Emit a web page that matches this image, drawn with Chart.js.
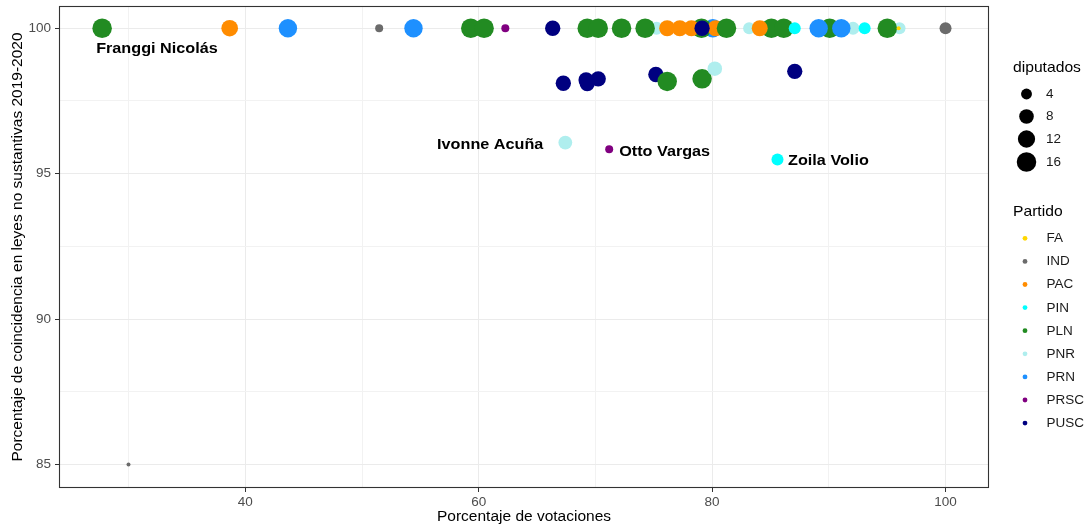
<!DOCTYPE html>
<html>
<head>
<meta charset="utf-8">
<script src="https://cdn.jsdelivr.net/npm/chart.js@4.4.1/dist/chart.umd.min.js"></script>
<style>
  html, body { margin: 0; padding: 0; background: #ffffff; }
  #wrap { position: relative; width: 1086px; height: 527px; }
</style>
</head>
<body>
<div id="wrap"><canvas id="grafico" width="1086" height="527"></canvas></div>
<script>
// ---------- DATA (long format, drawn in row order like ggplot) ----------
const partido = [
  'PNR','PNR','PNR','PNR','PUSC','PRN',
  'PLN','PLN','PLN','PLN','PLN','PLN','PLN','PLN','PLN','PLN','PLN','PLN','PLN','PLN',
  'PAC','PAC','PAC','PAC','PAC','PAC',
  'PLN',
  'PRN','PRN','PRN','PRN',
  'PIN','PIN','PIN',
  'PNR','PNR',
  'PUSC','PUSC','PUSC','PUSC','PUSC','PUSC','PUSC',
  'IND','IND','IND',
  'PRSC','PRSC',
  'FA'
];
const votaciones = [
  75.24, 83.17, 92.07, 96.06, 75.18, 80.06,
  27.73, 59.32, 60.46, 69.30, 70.24, 72.24, 74.26, 79.09, 85.08, 86.14, 90.07, 95.01, 76.15, 79.14,
  38.66, 76.15, 77.23, 78.23, 80.29, 84.08,
  81.23,
  43.65, 54.41, 89.13, 91.07,
  87.08, 93.07, 85.60,
  80.23, 67.42,
  66.34, 79.14, 67.25, 69.20, 69.30, 70.24, 87.08,
  51.47, 100.00, 29.99,
  62.28, 71.18,
  95.98
];
const coincidencia = [
  100, 100, 100, 100, 98.41, 100,
  100, 100, 100, 100, 100, 100, 100, 100, 100, 100, 100, 100, 98.17, 98.26,
  100, 100, 100, 100, 100, 100,
  100,
  100, 100, 100, 100,
  100, 100, 95.49,
  98.61, 96.07,
  100, 100, 98.11, 98.22, 98.10, 98.26, 98.52,
  100, 100, 85.00,
  100, 95.84,
  100
];
const diputados = [
  6, 5, 6, 5, 9, 14,
  16, 16, 16, 16, 16, 16, 16, 16, 16, 16, 16, 16, 16, 16,
  11, 10, 10, 10, 10, 10,
  16,
  14, 14, 14, 14,
  5, 5, 5,
  8, 7,
  9, 9, 9, 9, 9, 9, 9,
  2, 5, 1,
  2, 2,
  1
];
const etiqueta = [
  '', '', '', '', '', '',
  'Franggi Nicolás', '', '', '', '', '', '', '', '', '', '', '', '', '',
  '', '', '', '', '', '',
  '',
  '', '', '', '',
  '', '', 'Zoila Volio',
  '', 'Ivonne Acuña',
  '', '', '', '', '', '', '',
  '', '', '',
  '', 'Otto Vargas',
  ''
];
const partidosLeyenda = ['FA','IND','PAC','PIN','PLN','PNR','PRN','PRSC','PUSC'];
const diputadosLeyenda = [4, 8, 12, 16];
const xTicksMayores = [40, 60, 80, 100];
const xTicksMenores = [30, 50, 70, 90];
const yTicksMayores = [85, 90, 95, 100];
const yTicksMenores = [87.5, 92.5, 97.5];

// ---------- STYLE ----------
const FONT = '"Liberation Sans", Arial, Helvetica, sans-serif';
const colores = {
  FA: '#FFD700', IND: '#6B6B6B', PAC: '#FF8C00', PIN: '#00FFFF', PLN: '#228B22',
  PNR: '#AFEEEE', PRN: '#1E90FF', PRSC: '#800080', PUSC: '#000080'
};
function radio(d) { return 2 + 2 * Math.sqrt(Math.max(d - 1, 0)); }
const ESTIRAR = 1.08;
// label placement relative to its point (pixels)
const posEtiqueta = {
  'Franggi Nicolás': { dx: -6, dy: 25, align: 'left' },
  'Ivonne Acuña': { dx: -22, dy: 6.7, align: 'right' },
  'Otto Vargas': { dx: 10, dy: 7, align: 'left' },
  'Zoila Volio': { dx: 10.6, dy: 6, align: 'left' }
};

function texto(ctx, t, x, y, align) {
  ctx.save();
  ctx.translate(x, y);
  ctx.scale(ESTIRAR, 1);
  ctx.textAlign = align || 'left';
  ctx.fillText(t, 0, 0);
  ctx.restore();
}

const puntos = votaciones.map((v, i) => ({ x: v, y: coincidencia[i] }));

const xTodos = xTicksMenores.concat(xTicksMayores).sort((a, b) => a - b);
const yTodos = yTicksMenores.concat(yTicksMayores).sort((a, b) => a - b);
const esMayorX = v => xTicksMayores.includes(v);
const esMayorY = v => yTicksMayores.includes(v);

const borde = {
  id: 'borde',
  afterDatasetsDraw(chart) {
    const { ctx, chartArea: a } = chart;
    ctx.save();
    ctx.strokeStyle = '#333333';
    ctx.lineWidth = 1.1;
    ctx.strokeRect(a.left - 0.5, a.top - 0.5, a.right - a.left + 1, a.bottom - a.top + 1);
    ctx.restore();
  }
};

const etiquetas = {
  id: 'etiquetas',
  afterDatasetsDraw(chart) {
    const ctx = chart.ctx;
    const xs = chart.scales.x, ys = chart.scales.y;
    ctx.save();
    ctx.fillStyle = '#000000';
    ctx.font = `bold 15px ${FONT}`;
    ctx.textBaseline = 'alphabetic';
    etiqueta.forEach((t, i) => {
      if (!t) return;
      const p = posEtiqueta[t];
      const px = xs.getPixelForValue(votaciones[i]);
      const py = ys.getPixelForValue(coincidencia[i]);
      texto(ctx, t, px + p.dx, py + p.dy, p.align);
    });
    ctx.restore();
  }
};

const leyenda = {
  id: 'leyenda',
  afterDraw(chart) {
    const ctx = chart.ctx;
    ctx.save();
    ctx.textBaseline = 'middle';
    // size legend
    ctx.fillStyle = '#000000';
    ctx.font = `14.5px ${FONT}`;
    texto(ctx, 'diputados', 1013, 68);
    const yTam = [94, 116.5, 139, 162];
    diputadosLeyenda.forEach((d, i) => {
      ctx.fillStyle = '#000000';
      ctx.beginPath();
      ctx.arc(1026.5, yTam[i], radio(d), 0, Math.PI * 2);
      ctx.fill();
      ctx.fillStyle = '#1a1a1a';
      ctx.font = `12.5px ${FONT}`;
      texto(ctx, String(d), 1046, yTam[i] + 0.5);
    });
    // colour legend
    ctx.fillStyle = '#000000';
    ctx.font = `14.5px ${FONT}`;
    texto(ctx, 'Partido', 1013, 212);
    partidosLeyenda.forEach((p, i) => {
      const y = 238.3 + i * 23.1;
      ctx.fillStyle = colores[p];
      ctx.beginPath();
      ctx.arc(1025, y, 2.4, 0, Math.PI * 2);
      ctx.fill();
      ctx.fillStyle = '#1a1a1a';
      ctx.font = `12.5px ${FONT}`;
      texto(ctx, p, 1046.5, y + 0.5);
    });
    ctx.restore();
  }
};

new Chart(document.getElementById('grafico'), {
  type: 'scatter',
  data: {
    datasets: [{
      data: puntos,
      backgroundColor: partido.map(p => colores[p]),
      borderWidth: 0,
      pointRadius: ctx => radio(diputados[ctx.dataIndex]),
      pointHoverRadius: ctx => radio(diputados[ctx.dataIndex])
    }]
  },
  options: {
    responsive: false,
    animation: false,
    events: [],
    layout: { autoPadding: false, padding: { top: 7, right: 98, bottom: 0, left: 0 } },
    plugins: { legend: { display: false }, tooltip: { enabled: false } },
    scales: {
      x: {
        type: 'linear',
        min: 24.12,
        max: 103.64,
        afterBuildTicks: s => { s.ticks = xTodos.map(v => ({ value: v })); },
        afterFit: s => { s.height = 40; s.paddingLeft = 0; s.paddingRight = 0; },
        border: { display: false },
        grid: {
          color: c => (c.tick && esMayorX(c.tick.value)) ? '#ebebeb' : '#f2f2f2',
          lineWidth: 1,
          tickLength: 5,
          tickWidth: 1,
          tickColor: c => (c.tick && esMayorX(c.tick.value)) ? '#333333' : 'rgba(0,0,0,0)'
        },
        ticks: {
          autoSkip: false,
          maxRotation: 0,
          padding: 2,
          color: '#4d4d4d',
          font: { family: FONT, size: 13.5 },
          callback: v => esMayorX(v) ? String(v) : ''
        },
        title: {
          display: true,
          text: 'Porcentaje de votaciones',
          color: '#000000',
          font: { family: FONT, size: 15.5 },
          padding: { top: 0, bottom: 1 }
        }
      },
      y: {
        type: 'linear',
        min: 84.23,
        max: 100.73,
        afterBuildTicks: s => { s.ticks = yTodos.map(v => ({ value: v })); },
        afterFit: s => { s.width = 60; s.paddingTop = 0; s.paddingBottom = 0; },
        border: { display: false },
        grid: {
          color: c => (c.tick && esMayorY(c.tick.value)) ? '#ebebeb' : '#f2f2f2',
          lineWidth: 1,
          tickLength: 5,
          tickWidth: 1,
          tickColor: c => (c.tick && esMayorY(c.tick.value)) ? '#333333' : 'rgba(0,0,0,0)'
        },
        ticks: {
          autoSkip: false,
          padding: 4,
          color: '#4d4d4d',
          font: { family: FONT, size: 13.5 },
          callback: v => esMayorY(v) ? String(v) : ''
        },
        title: {
          display: true,
          text: 'Porcentaje de coincidencia en leyes no sustantivas 2019-2020',
          color: '#000000',
          font: { family: FONT, size: 15.5 },
          padding: { top: 8, bottom: 0 }
        }
      }
    }
  },
  plugins: [borde, etiquetas, leyenda]
});
</script>
</body>
</html>
